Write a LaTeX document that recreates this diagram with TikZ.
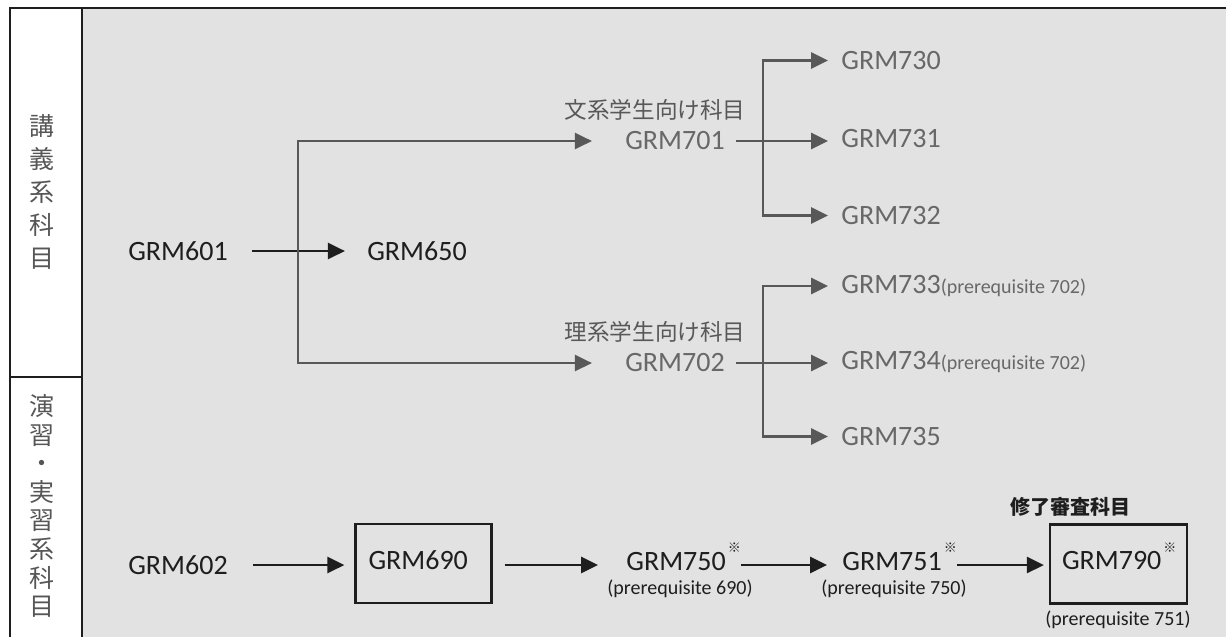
\documentclass[tikz,border=0pt]{standalone}
\usepackage{fontspec}
\setmainfont{Carlito}
\newfontfamily\jpfont{Noto Sans CJK JP}
\usepackage{xcolor}
\usetikzlibrary{arrows.meta,positioning}
\definecolor{panel}{RGB}{226,226,227}
\definecolor{ink}{RGB}{30,30,30}
\definecolor{inkgray}{RGB}{104,104,104}
\definecolor{wiregray}{RGB}{88,88,88}
\newcommand{\wirew}{1.4pt}
\newcommand{\kome}{\hspace{1pt}\raisebox{8.7pt}{\jpfont\fontsize{6.5}{7}\selectfont ※}}
\newcommand{\prq}[1]{{\fontsize{10}{12}\selectfont(prerequisite #1)}}

\begin{document}
\begin{tikzpicture}[x=0.5pt,y=-0.5pt,>={Triangle[length=8.5pt,width=8pt]},
    course/.style={font=\fontsize{14}{16}\selectfont, text=ink, inner sep=0pt},
    graycourse/.style={course, text=inkgray},
    prereq/.style={course, font=\fontsize{10}{12}\selectfont},
    jplabel/.style={font=\jpfont\fontsize{11.3}{13}\selectfont, text=wiregray, inner sep=0pt},
    sidelabel/.style={text=ink!75, align=center, inner sep=0pt},
    blackarrow/.style={->, line width=\wirew, draw=ink},
    grayarrow/.style={->, line width=\wirew, draw=wiregray},
    finalbox/.style={course, draw=ink, line width=1.1pt, text width=55pt, inner xsep=6.5pt,
        text height=22.5pt, text depth=17pt, align=left}]
    %\draw[help lines] (0,0) grid[step=100] (1226,637);
    \useasboundingbox (0,0) rectangle (1226,637);
    \fill[panel] (82,8) rectangle (1226,637);
    \fill[white] (10,8) rectangle (82,637);
    \draw[ink, line width=1pt] (10,637) -- (10,8) -- (1226,8);
    \draw[ink, line width=1pt] (82,8) -- (82,637);
    \draw[ink, line width=1pt] (10,377) -- (82,377);

    % row headings
    \node[sidelabel, font=\jpfont\fontsize{12.5}{16.5}\selectfont] (lect) at (42,191.5) {講\\義\\系\\科\\目};
    \node[sidelabel, font=\jpfont\fontsize{12.5}{14.3}\selectfont] (prac) at (42,506) {演\\習\\・\\実\\習\\系\\科\\目};

    % lecture courses
    \node[course] (g601) at (178,251) {GRM601};
    \node[course] (g650) at (417,251) {GRM650};
    \node[graycourse] (g701) at (675,141) {GRM701};
    \node[graycourse] (g702) at (675,363) {GRM702};
    \node[jplabel] (arts) at (655,110) {文系学生向け科目};
    \node[jplabel] (sci) at (655,332) {理系学生向け科目};
    \foreach \n/\y in {730/69.5, 731/147.5, 732/224.5, 735/445.5}
        \node[graycourse, anchor=base west] (g\n) at (841,\y) {GRM\n};
    \node[graycourse, anchor=base west] (g733) at (841,293.5) {GRM733\prq{702}};
    \node[graycourse, anchor=base west] (g734) at (841,369.5) {GRM734\prq{702}};

    \draw[blackarrow, shorten <=12pt, shorten >=11pt] (g601) -- (g650);
    \coordinate (split) at (298,251);
    \draw[grayarrow, <->, shorten <=16.5pt, shorten >=16.5pt]
        (g701.west) -- (split |- g701) -- (split |- g702) -- (g702.west);
    \coordinate (fork) at (763,251);
    \foreach \src/\a/\b/\c in {701/730/731/732, 702/733/734/735} {
        \draw[grayarrow, <->, shorten <=6.5pt, shorten >=6.5pt]
            (g\a.west) -- (fork |- g\a) -- (fork |- g\c) -- (g\c.west);
        \draw[grayarrow, shorten <=5.5pt, shorten >=6.5pt] (g\src.east) -- (g\src.east -| g\b.west);
    }

    % practical courses
    \node[course] (g602) at (178,565) {GRM602};
    \node[finalbox] (g690) at (423.5,563.5) {GRM690};
    \node[course, anchor=base west] (g750) at (626,570) {GRM750\kome};
    \node[course, anchor=base west] (g751) at (842,570) {GRM751\kome};
    \node[finalbox, inner xsep=6pt, text width=56.5pt] (g790) at (1118.5,564) {GRM790\rlap{\kome}};
    \node[prereq] (p690) at (680,589) {(prerequisite 690)};
    \node[prereq] (p750) at (894,589) {(prerequisite 750)};
    \node[prereq] (p751) at (1118,620) {(prerequisite 751)};
    \node[jplabel, font=\jpfont\bfseries\fontsize{10}{12}\selectfont, text=ink] (review) at (1070,507) {修了審査科目};

    \draw[blackarrow, shorten <=12.5pt, shorten >=5pt] (g602.east) -- (g602.east -| g690.west);
    \draw[blackarrow, shorten <=6pt, shorten >=14pt] (g602 -| g690.east) -- (g602 -| g750.west);
    \draw[blackarrow, shorten >=7.5pt] (g602 -| g750.east) -- (g602 -| g751.west);
    \draw[blackarrow, shorten >=2.5pt] (g602 -| g751.east) -- (g602 -| g790.west);
\end{tikzpicture}
\end{document}
